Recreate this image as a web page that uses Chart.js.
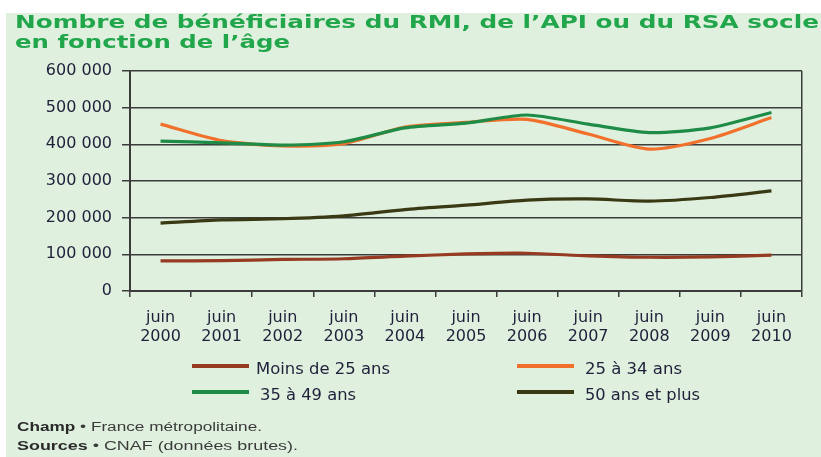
<!DOCTYPE html>
<html>
<head>
<meta charset="utf-8">
<script src="https://cdn.jsdelivr.net/npm/chart.js@4.4.1/dist/chart.umd.min.js"></script>
<style>
  html, body { margin:0; padding:0; background:#ffffff; }
  #page { position:relative; width:821px; height:457px; overflow:hidden; background:#ffffff; }
  #bg { position:absolute; left:6px; top:13px; right:0; bottom:0; background:#dff0de; }
  #cv { position:absolute; left:0; top:0; }
  .t { position:absolute; white-space:nowrap; transform-origin:0 50%; display:inline-block; }
  .title { font-family:"DejaVu Sans", sans-serif; font-weight:bold; font-size:17px; color:#22a64b; line-height:20px; }
  .leg { font-family:"DejaVu Sans", sans-serif; font-size:16px; color:#1f1f3a; line-height:20px; }
  .note { font-family:"Liberation Sans", Arial, sans-serif; font-size:12.5px; color:#3a3a3a; line-height:16px; }
  .note b { color:#2a2a2a; }
  .sw { position:absolute; width:57px; height:4px; }
</style>
</head>
<body>
<div id="page">
  <div id="bg"></div>
  <canvas id="cv" width="821" height="457"></canvas>
</div>
<script>
// ---- data ----
const categories = [["juin","2000"],["juin","2001"],["juin","2002"],["juin","2003"],["juin","2004"],["juin","2005"],["juin","2006"],["juin","2007"],["juin","2008"],["juin","2009"],["juin","2010"]];
const moins25 = [82000, 83000, 86000, 88000, 95000, 101000, 103000, 96000, 92000, 93000, 98000];
const de25a34 = [455000, 410000, 396000, 402000, 447000, 460000, 468000, 428000, 387000, 416000, 473000];
const de35a49 = [409000, 404000, 398000, 407000, 445000, 458000, 480000, 455000, 432000, 445000, 487000];
const plus50 = [185000, 194000, 197000, 205000, 222000, 234000, 248000, 251000, 245000, 255000, 273000];
const seriesNames = ["Moins de 25 ans", "25 à 34 ans", "35 à 49 ans", "50 ans et plus"];
const seriesColors = ["#963a22", "#f0702c", "#1e8c46", "#393914"];
const yTicks = [0, 100000, 200000, 300000, 400000, 500000, 600000];
const titleLines = ["Nombre de bénéficiaires du RMI, de l’API ou du RSA socle", "en fonction de l’âge"];
const notes = [["Champ", " • France métropolitaine."], ["Sources", " • CNAF (données brutes)."]];

const fmt = v => String(v).replace(/\B(?=(\d{3})+(?!\d))/g, " ");
const gridCol = "#3c3c3c";
const tickFont = { family: "DejaVu Sans", size: 16 };

const allSeries = [moins25, de25a34, de35a49, plus50];
const orders = [3, 2, 0, 1];
new Chart(document.getElementById("cv"), {
  type: "line",
  data: {
    labels: categories,
    datasets: allSeries.map((d, i) => ({
      label: seriesNames[i], data: d, borderColor: seriesColors[i], backgroundColor: seriesColors[i],
      borderWidth: 3.2, pointRadius: 0, tension: 0.25, fill: false, order: orders[i]
    }))
  },
  options: {
    responsive: false, animation: false, devicePixelRatio: 1,
    layout: { padding: { left: 0, top: 71, right: 19, bottom: 0 } },
    plugins: { legend: { display: false }, tooltip: { enabled: false }, title: { display: false } },
    scales: {
      x: {
        type: "category", offset: true,
        grid: { offset: true, drawOnChartArea: true, drawTicks: true, tickLength: 6,
                color: c => (c.index === undefined ? gridCol : "rgba(0,0,0,0)"), tickColor: gridCol, lineWidth: 1.5, tickWidth: 1.5 },
        border: { display: true, color: gridCol, width: 2 },
        ticks: { color: "#1f1f3a", font: { ...tickFont, lineHeight: 1.22 }, padding: 11, maxRotation: 0, autoSkip: false },
        afterFit: s => { s.height = 166; }
      },
      y: {
        min: 0, max: 600000,
        afterBuildTicks: s => { s.ticks = yTicks.map(v => ({ value: v })); },
        grid: { color: gridCol, lineWidth: 1.5, drawTicks: true, tickLength: 8, tickColor: gridCol, tickWidth: 1.5 },
        border: { display: true, color: gridCol, width: 2 },
        ticks: { color: "#1f1f3a", font: tickFont, padding: 10, callback: v => fmt(v) },
        afterFit: s => { s.width = 130; }
      }
    }
  }
});

// ---- HTML text (title, legend, notes) ----
const page = document.getElementById("page");
function place(html, cls, x, cy, targetW, lh) {
  const el = document.createElement("span");
  el.className = "t " + cls;
  el.innerHTML = html;
  page.appendChild(el);
  el.style.left = x + "px";
  el.style.top = (cy - lh / 2) + "px";
  const w = el.getBoundingClientRect().width;
  if (targetW && w > 0) el.style.transform = "scaleX(" + (targetW / w) + ")";
  return el;
}
place(titleLines[0], "title", 15, 22, 804, 20);
place(titleLines[1], "title", 15, 42, 275, 20);

const legPos = [
  { sx: 192, sy: 364, tx: 256, ty: 369, w: 134 },
  { sx: 517, sy: 364, tx: 585, ty: 369, w: 97 },
  { sx: 192, sy: 390, tx: 260, ty: 395, w: 96 },
  { sx: 517, sy: 390, tx: 585, ty: 395, w: 115 }
];
seriesNames.forEach((n, i) => {
  const p = legPos[i];
  const sw = document.createElement("div");
  sw.className = "sw";
  sw.style.left = p.sx + "px"; sw.style.top = p.sy + "px"; sw.style.background = seriesColors[i];
  page.appendChild(sw);
  place(n, "leg", p.tx, p.ty, p.w, 20);
});

place("<b>" + notes[0][0] + "</b>" + notes[0][1], "note", 17, 427, 245, 16);
place("<b>" + notes[1][0] + "</b>" + notes[1][1], "note", 17, 446, 281, 16);
</script>
</body>
</html>
